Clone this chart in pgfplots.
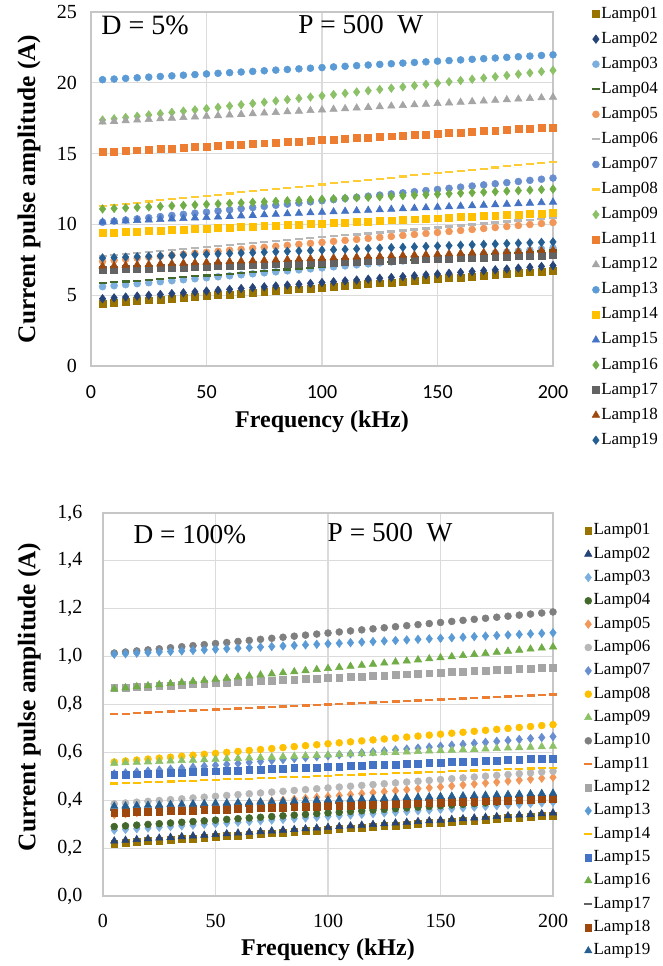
\documentclass[border=0pt]{standalone}
\usepackage{pgfplots}
\usepackage{pgfplotstable}
\pgfplotsset{compat=1.18}
\usepackage{fontspec}
\setmainfont{Liberation Serif}
\newfontfamily\calibri{Carlito}

\definecolor{c01}{HTML}{997300}
\definecolor{c02}{HTML}{264478}
\definecolor{c03}{HTML}{7CAFDD}
\definecolor{c04}{HTML}{43682B}
\definecolor{c05}{HTML}{F1975A}
\definecolor{c06}{HTML}{B7B7B7}
\definecolor{c07}{HTML}{698ED0}
\definecolor{c08}{HTML}{FFCD33}
\definecolor{c09}{HTML}{8CC168}
\definecolor{c10}{HTML}{7F7F7F}
\definecolor{c11}{HTML}{ED7D31}
\definecolor{c12}{HTML}{A5A5A5}
\definecolor{c13}{HTML}{5B9BD5}
\definecolor{c14}{HTML}{FFC000}
\definecolor{c15}{HTML}{4472C4}
\definecolor{c16}{HTML}{70AD47}
\definecolor{c17}{HTML}{636363}
\definecolor{c18}{HTML}{9E480E}
\definecolor{c19}{HTML}{255E91}

% D = 5 %, P = 500 W
\pgfplotstableread{
x L01 L02 L03 L04 L05 L06 L07 L08 L09 L11 L12 L13 L14 L15 L16 L17 L18 L19
5 4.40 4.75 5.60 5.85 7.40 7.75 10.15 11.30 17.37 15.100 17.230 20.220 9.390 10.170 11.090 6.780 7.060 7.630
10 4.46 4.81 5.67 5.91 7.47 7.82 10.23 11.38 17.46 15.145 17.275 20.265 9.426 10.206 11.126 6.807 7.089 7.659
15 4.52 4.87 5.74 5.97 7.54 7.89 10.31 11.46 17.55 15.190 17.320 20.310 9.462 10.242 11.162 6.834 7.118 7.688
20 4.58 4.93 5.81 6.03 7.61 7.96 10.39 11.54 17.64 15.235 17.365 20.355 9.498 10.278 11.198 6.861 7.147 7.717
25 4.64 4.99 5.88 6.09 7.68 8.03 10.47 11.62 17.73 15.280 17.410 20.400 9.534 10.314 11.234 6.888 7.176 7.746
30 4.70 5.05 5.95 6.15 7.75 8.10 10.55 11.70 17.82 15.325 17.455 20.445 9.570 10.350 11.270 6.915 7.205 7.775
35 4.76 5.11 6.02 6.21 7.82 8.17 10.63 11.78 17.91 15.370 17.500 20.490 9.606 10.386 11.306 6.942 7.234 7.804
40 4.82 5.17 6.09 6.27 7.89 8.24 10.71 11.86 18.00 15.415 17.545 20.535 9.642 10.422 11.342 6.969 7.263 7.833
45 4.88 5.23 6.16 6.33 7.96 8.31 10.79 11.94 18.09 15.460 17.590 20.580 9.678 10.458 11.378 6.996 7.292 7.862
50 4.94 5.29 6.23 6.39 8.03 8.38 10.87 12.02 18.18 15.505 17.635 20.625 9.714 10.494 11.414 7.023 7.321 7.891
55 5.00 5.35 6.30 6.45 8.10 8.45 10.95 12.10 18.27 15.550 17.680 20.670 9.750 10.530 11.450 7.050 7.350 7.920
60 5.06 5.41 6.37 6.51 8.17 8.52 11.03 12.18 18.36 15.595 17.725 20.715 9.786 10.566 11.486 7.077 7.379 7.949
65 5.12 5.47 6.44 6.57 8.24 8.59 11.11 12.26 18.45 15.640 17.770 20.760 9.822 10.602 11.522 7.104 7.408 7.978
70 5.18 5.53 6.51 6.63 8.31 8.66 11.19 12.34 18.54 15.685 17.815 20.805 9.858 10.638 11.558 7.131 7.437 8.007
75 5.24 5.59 6.58 6.69 8.38 8.73 11.27 12.42 18.63 15.730 17.860 20.850 9.894 10.674 11.594 7.158 7.466 8.036
80 5.30 5.65 6.65 6.75 8.45 8.80 11.35 12.50 18.72 15.775 17.905 20.895 9.930 10.710 11.630 7.185 7.495 8.065
85 5.36 5.71 6.72 6.81 8.52 8.87 11.43 12.58 18.81 15.820 17.950 20.940 9.966 10.746 11.666 7.212 7.524 8.094
90 5.42 5.77 6.79 6.87 8.59 8.94 11.51 12.66 18.90 15.865 17.995 20.985 10.002 10.782 11.702 7.239 7.553 8.123
95 5.48 5.83 6.86 6.93 8.66 9.01 11.59 12.74 18.99 15.910 18.040 21.030 10.038 10.818 11.738 7.266 7.582 8.152
100 5.54 5.89 6.93 6.99 8.73 9.08 11.67 12.82 19.08 15.955 18.085 21.075 10.074 10.854 11.774 7.293 7.611 8.181
105 5.60 5.95 7.00 7.05 8.80 9.15 11.75 12.90 19.17 16.000 18.130 21.120 10.110 10.890 11.810 7.320 7.640 8.210
110 5.66 6.01 7.07 7.11 8.87 9.22 11.83 12.98 19.26 16.045 18.175 21.165 10.146 10.926 11.846 7.347 7.669 8.239
115 5.72 6.07 7.14 7.17 8.94 9.29 11.91 13.06 19.35 16.090 18.220 21.210 10.182 10.962 11.882 7.374 7.698 8.268
120 5.78 6.13 7.21 7.23 9.01 9.36 11.99 13.14 19.44 16.135 18.265 21.255 10.218 10.998 11.918 7.401 7.727 8.297
125 5.84 6.19 7.28 7.29 9.08 9.43 12.07 13.22 19.53 16.180 18.310 21.300 10.254 11.034 11.954 7.428 7.756 8.326
130 5.90 6.25 7.35 7.35 9.15 9.50 12.15 13.30 19.62 16.225 18.355 21.345 10.290 11.070 11.990 7.455 7.785 8.355
135 5.96 6.31 7.42 7.41 9.22 9.57 12.23 13.38 19.71 16.270 18.400 21.390 10.326 11.106 12.026 7.482 7.814 8.384
140 6.02 6.37 7.49 7.47 9.29 9.64 12.31 13.46 19.80 16.315 18.445 21.435 10.362 11.142 12.062 7.509 7.843 8.413
145 6.08 6.43 7.56 7.53 9.36 9.71 12.39 13.54 19.89 16.360 18.490 21.480 10.398 11.178 12.098 7.536 7.872 8.442
150 6.14 6.49 7.63 7.59 9.43 9.78 12.47 13.62 19.98 16.405 18.535 21.525 10.434 11.214 12.134 7.563 7.901 8.471
155 6.20 6.55 7.70 7.65 9.50 9.85 12.55 13.70 20.07 16.450 18.580 21.570 10.470 11.250 12.170 7.590 7.930 8.500
160 6.26 6.61 7.77 7.71 9.57 9.92 12.63 13.78 20.16 16.495 18.625 21.615 10.506 11.286 12.206 7.617 7.959 8.529
165 6.32 6.67 7.84 7.77 9.64 9.99 12.71 13.86 20.25 16.540 18.670 21.660 10.542 11.322 12.242 7.644 7.988 8.558
170 6.38 6.73 7.91 7.83 9.71 10.06 12.79 13.94 20.34 16.585 18.715 21.705 10.578 11.358 12.278 7.671 8.017 8.587
175 6.44 6.79 7.98 7.89 9.78 10.13 12.87 14.02 20.43 16.630 18.760 21.750 10.614 11.394 12.314 7.698 8.046 8.616
180 6.50 6.85 8.05 7.95 9.85 10.20 12.95 14.10 20.52 16.675 18.805 21.795 10.650 11.430 12.350 7.725 8.075 8.645
185 6.56 6.91 8.12 8.01 9.92 10.27 13.03 14.18 20.61 16.720 18.850 21.840 10.686 11.466 12.386 7.752 8.104 8.674
190 6.62 6.97 8.19 8.07 9.99 10.34 13.11 14.26 20.70 16.765 18.895 21.885 10.722 11.502 12.422 7.779 8.133 8.703
195 6.68 7.03 8.26 8.13 10.06 10.41 13.19 14.34 20.79 16.810 18.940 21.930 10.758 11.538 12.458 7.806 8.162 8.732
200 6.74 7.09 8.33 8.19 10.13 10.48 13.27 14.42 20.88 16.855 18.985 21.975 10.794 11.574 12.494 7.833 8.191 8.761
}\topdata

% D = 100 %, P = 500 W
\pgfplotstableread{
x L01 L02 L03 L04 L05 L06 L07 L08 L09 L10 L11 L12 L13 L14 L15 L16 L17 L18 L19
5 0.220 0.230 0.275 0.290 0.340 0.3850 0.510 0.560 0.5550 1.0150 0.7600 0.8690 1.0100 0.4700 0.5050 0.8650 0.3600 0.3470 0.3750
10 0.223 0.233 0.278 0.293 0.344 0.3885 0.514 0.564 0.5568 1.0194 0.7621 0.8712 1.0123 0.4717 0.5068 0.8695 0.3615 0.3485 0.3764
15 0.226 0.236 0.281 0.296 0.348 0.3920 0.518 0.568 0.5586 1.0238 0.7642 0.8734 1.0146 0.4734 0.5086 0.8740 0.3630 0.3500 0.3778
20 0.229 0.239 0.284 0.299 0.352 0.3955 0.522 0.572 0.5604 1.0282 0.7663 0.8756 1.0169 0.4751 0.5104 0.8785 0.3645 0.3515 0.3792
25 0.232 0.242 0.287 0.302 0.356 0.3990 0.526 0.576 0.5622 1.0326 0.7684 0.8778 1.0192 0.4768 0.5122 0.8830 0.3660 0.3530 0.3806
30 0.235 0.245 0.290 0.305 0.360 0.4025 0.530 0.580 0.5640 1.0370 0.7705 0.8800 1.0215 0.4785 0.5140 0.8875 0.3675 0.3545 0.3820
35 0.238 0.248 0.293 0.308 0.364 0.4060 0.534 0.584 0.5658 1.0414 0.7726 0.8822 1.0238 0.4802 0.5158 0.8920 0.3690 0.3560 0.3834
40 0.241 0.251 0.296 0.311 0.368 0.4095 0.538 0.588 0.5676 1.0458 0.7747 0.8844 1.0261 0.4819 0.5176 0.8965 0.3705 0.3575 0.3848
45 0.244 0.254 0.299 0.314 0.372 0.4130 0.542 0.592 0.5694 1.0502 0.7768 0.8866 1.0284 0.4836 0.5194 0.9010 0.3720 0.3590 0.3862
50 0.247 0.257 0.302 0.317 0.376 0.4165 0.546 0.596 0.5712 1.0546 0.7789 0.8888 1.0307 0.4853 0.5212 0.9055 0.3735 0.3605 0.3876
55 0.250 0.260 0.305 0.320 0.380 0.4200 0.550 0.600 0.5730 1.0590 0.7810 0.8910 1.0330 0.4870 0.5230 0.9100 0.3750 0.3620 0.3890
60 0.253 0.263 0.308 0.323 0.384 0.4235 0.554 0.604 0.5748 1.0634 0.7831 0.8932 1.0353 0.4887 0.5248 0.9145 0.3765 0.3635 0.3904
65 0.256 0.266 0.311 0.326 0.388 0.4270 0.558 0.608 0.5766 1.0678 0.7852 0.8954 1.0376 0.4904 0.5266 0.9190 0.3780 0.3650 0.3918
70 0.259 0.269 0.314 0.329 0.392 0.4305 0.562 0.612 0.5784 1.0722 0.7873 0.8976 1.0399 0.4921 0.5284 0.9235 0.3795 0.3665 0.3932
75 0.262 0.272 0.317 0.332 0.396 0.4340 0.566 0.616 0.5802 1.0766 0.7894 0.8998 1.0422 0.4938 0.5302 0.9280 0.3810 0.3680 0.3946
80 0.265 0.275 0.320 0.335 0.400 0.4375 0.570 0.620 0.5820 1.0810 0.7915 0.9020 1.0445 0.4955 0.5320 0.9325 0.3825 0.3695 0.3960
85 0.268 0.278 0.323 0.338 0.404 0.4410 0.574 0.624 0.5838 1.0854 0.7936 0.9042 1.0468 0.4972 0.5338 0.9370 0.3840 0.3710 0.3974
90 0.271 0.281 0.326 0.341 0.408 0.4445 0.578 0.628 0.5856 1.0898 0.7957 0.9064 1.0491 0.4989 0.5356 0.9415 0.3855 0.3725 0.3988
95 0.274 0.284 0.329 0.344 0.412 0.4480 0.582 0.632 0.5874 1.0942 0.7978 0.9086 1.0514 0.5006 0.5374 0.9460 0.3870 0.3740 0.4002
100 0.277 0.287 0.332 0.347 0.416 0.4515 0.586 0.636 0.5892 1.0986 0.7999 0.9108 1.0537 0.5023 0.5392 0.9505 0.3885 0.3755 0.4016
105 0.280 0.290 0.335 0.350 0.420 0.4550 0.590 0.640 0.5910 1.1030 0.8020 0.9130 1.0560 0.5040 0.5410 0.9550 0.3900 0.3770 0.4030
110 0.283 0.293 0.338 0.353 0.424 0.4585 0.594 0.644 0.5928 1.1074 0.8041 0.9152 1.0583 0.5057 0.5428 0.9595 0.3915 0.3785 0.4044
115 0.286 0.296 0.341 0.356 0.428 0.4620 0.598 0.648 0.5946 1.1118 0.8062 0.9174 1.0606 0.5074 0.5446 0.9640 0.3930 0.3800 0.4058
120 0.289 0.299 0.344 0.359 0.432 0.4655 0.602 0.652 0.5964 1.1162 0.8083 0.9196 1.0629 0.5091 0.5464 0.9685 0.3945 0.3815 0.4072
125 0.292 0.302 0.347 0.362 0.436 0.4690 0.606 0.656 0.5982 1.1206 0.8104 0.9218 1.0652 0.5108 0.5482 0.9730 0.3960 0.3830 0.4086
130 0.295 0.305 0.350 0.365 0.440 0.4725 0.610 0.660 0.6000 1.1250 0.8125 0.9240 1.0675 0.5125 0.5500 0.9775 0.3975 0.3845 0.4100
135 0.298 0.308 0.353 0.368 0.444 0.4760 0.614 0.664 0.6018 1.1294 0.8146 0.9262 1.0698 0.5142 0.5518 0.9820 0.3990 0.3860 0.4114
140 0.301 0.311 0.356 0.371 0.448 0.4795 0.618 0.668 0.6036 1.1338 0.8167 0.9284 1.0721 0.5159 0.5536 0.9865 0.4005 0.3875 0.4128
145 0.304 0.314 0.359 0.374 0.452 0.4830 0.622 0.672 0.6054 1.1382 0.8188 0.9306 1.0744 0.5176 0.5554 0.9910 0.4020 0.3890 0.4142
150 0.307 0.317 0.362 0.377 0.456 0.4865 0.626 0.676 0.6072 1.1426 0.8209 0.9328 1.0767 0.5193 0.5572 0.9955 0.4035 0.3905 0.4156
155 0.310 0.320 0.365 0.380 0.460 0.4900 0.630 0.680 0.6090 1.1470 0.8230 0.9350 1.0790 0.5210 0.5590 1.0000 0.4050 0.3920 0.4170
160 0.313 0.323 0.368 0.383 0.464 0.4935 0.634 0.684 0.6108 1.1514 0.8251 0.9372 1.0813 0.5227 0.5608 1.0045 0.4065 0.3935 0.4184
165 0.316 0.326 0.371 0.386 0.468 0.4970 0.638 0.688 0.6126 1.1558 0.8272 0.9394 1.0836 0.5244 0.5626 1.0090 0.4080 0.3950 0.4198
170 0.319 0.329 0.374 0.389 0.472 0.5005 0.642 0.692 0.6144 1.1602 0.8293 0.9416 1.0859 0.5261 0.5644 1.0135 0.4095 0.3965 0.4212
175 0.322 0.332 0.377 0.392 0.476 0.5040 0.646 0.696 0.6162 1.1646 0.8314 0.9438 1.0882 0.5278 0.5662 1.0180 0.4110 0.3980 0.4226
180 0.325 0.335 0.380 0.395 0.480 0.5075 0.650 0.700 0.6180 1.1690 0.8335 0.9460 1.0905 0.5295 0.5680 1.0225 0.4125 0.3995 0.4240
185 0.328 0.338 0.383 0.398 0.484 0.5110 0.654 0.704 0.6198 1.1734 0.8356 0.9482 1.0928 0.5312 0.5698 1.0270 0.4140 0.4010 0.4254
190 0.331 0.341 0.386 0.401 0.488 0.5145 0.658 0.708 0.6216 1.1778 0.8377 0.9504 1.0951 0.5329 0.5716 1.0315 0.4155 0.4025 0.4268
195 0.334 0.344 0.389 0.404 0.492 0.5180 0.662 0.712 0.6234 1.1822 0.8398 0.9526 1.0974 0.5346 0.5734 1.0360 0.4170 0.4040 0.4282
200 0.337 0.347 0.392 0.407 0.496 0.5215 0.666 0.716 0.6252 1.1866 0.8419 0.9548 1.0997 0.5363 0.5752 1.0405 0.4185 0.4055 0.4296
}\botdata

\pgfplotsset{
  sq/.style={only marks, mark=square*, mark size=2.6pt, color=#1},
  ci/.style={only marks, mark=*, mark size=2.6pt, color=#1},
  di/.style={only marks, mark=diamond*, mark size=3.2pt, color=#1},
  tr/.style={only marks, mark=triangle*, mark size=3.2pt, color=#1},
  da/.style={only marks, mark=-, mark size=3pt, mark options={line width=1.6pt}, color=#1},
  common/.style={
    scale only axis, anchor=south west,
    xmin=0, xmax=200, xtick={0,50,100,150,200},
    grid=major, major grid style={draw=gray!28, line width=0.8pt},
    axis line style={draw=gray!45, line width=0.8pt},
    major tick length=0pt,
    /pgf/number format/assume math mode=true,
    clip=false,
    legend cell align=left,
    legend image code/.code={\draw[mark repeat=2,mark phase=2,##1] plot coordinates {(0pt,0pt)(4pt,0pt)(8pt,0pt)};},
    xlabel={\textbf{Frequency (kHz)}},
    ylabel={\textbf{Current pulse amplitude (A)}},
    xlabel style={font=\fontsize{18}{20}\selectfont, anchor=center},
    ylabel style={font=\fontsize{19}{21}\selectfont, anchor=center, rotate=0},
  },
}

\begin{document}
\begin{tikzpicture}
\useasboundingbox (0,0) rectangle (497.25pt,724.5pt);

% ---------- top panel ----------
\begin{axis}[common,
  at={(68.25pt,450pt)}, width=346.5pt, height=265.5pt,
  ymin=0, ymax=25, ytick={0,5,10,15,20,25},
  xticklabel style={font=\calibri\fontsize{15}{18}\selectfont, yshift=-11pt},
  yticklabel style={font=\fontsize{15}{18}\selectfont, xshift=-7pt},
  xlabel style={at={(axis description cs:0.5,-0.158)}},
  ylabel style={at={(axis description cs:-0.134,0.5)}},
  legend style={draw=none, fill=none, at={(axis description cs:1.075,1.025)}, anchor=north west,
    font=\fontsize{12.75}{14}\selectfont, row sep=6.8pt,
    nodes={inner xsep=1pt, inner ysep=0pt, text height=9pt, text depth=3pt}},
]
\addplot[sq=c01] table[x=x,y=L01]{\topdata}; \addlegendentry{Lamp01}
\addplot[di=c02] table[x=x,y=L02]{\topdata}; \addlegendentry{Lamp02}
\addplot[ci=c03] table[x=x,y=L03]{\topdata}; \addlegendentry{Lamp03}
\addplot[da=c04] table[x=x,y=L04]{\topdata}; \addlegendentry{Lamp04}
\addplot[ci=c05] table[x=x,y=L05]{\topdata}; \addlegendentry{Lamp05}
\addplot[da=c06] table[x=x,y=L06]{\topdata}; \addlegendentry{Lamp06}
\addplot[ci=c07] table[x=x,y=L07]{\topdata}; \addlegendentry{Lamp07}
\addplot[da=c08] table[x=x,y=L08]{\topdata}; \addlegendentry{Lamp08}
\addplot[di=c09] table[x=x,y=L09]{\topdata}; \addlegendentry{Lamp09}
\addplot[sq=c11] table[x=x,y=L11]{\topdata}; \addlegendentry{Lamp11}
\addplot[tr=c12] table[x=x,y=L12]{\topdata}; \addlegendentry{Lamp12}
\addplot[ci=c13] table[x=x,y=L13]{\topdata}; \addlegendentry{Lamp13}
\addplot[sq=c14] table[x=x,y=L14]{\topdata}; \addlegendentry{Lamp14}
\addplot[tr=c15] table[x=x,y=L15]{\topdata}; \addlegendentry{Lamp15}
\addplot[di=c16] table[x=x,y=L16]{\topdata}; \addlegendentry{Lamp16}
\addplot[sq=c17] table[x=x,y=L17]{\topdata}; \addlegendentry{Lamp17}
\addplot[tr=c18] table[x=x,y=L18]{\topdata}; \addlegendentry{Lamp18}
\addplot[di=c19] table[x=x,y=L19]{\topdata}; \addlegendentry{Lamp19}
\node[font=\fontsize{21}{23}\selectfont] at (axis description cs:0.117,0.963) {D = 5\%};
\node[font=\fontsize{20.5}{22}\selectfont] at (axis description cs:0.584,0.963) {P = 500\ \ W};
\end{axis}

% ---------- bottom panel ----------
\begin{axis}[common,
  at={(77.25pt,52.5pt)}, width=337.5pt, height=287.25pt,
  ymin=0, ymax=1.6, ytick={0,0.2,0.4,0.6,0.8,1.0,1.2,1.4,1.6},
  yticklabel={\pgfmathprintnumber[fixed, fixed zerofill, precision=1, use comma]{\tick}},
  xticklabel style={font=\fontsize{15}{18}\selectfont, yshift=-10pt},
  yticklabel style={font=\fontsize{15}{18}\selectfont, xshift=-12pt},
  xlabel style={at={(axis description cs:0.5,-0.141)}},
  ylabel style={at={(axis description cs:-0.164,0.52)}},
  legend style={draw=none, fill=none, at={(axis description cs:1.06,0.982)}, anchor=north west,
    font=\fontsize{12.75}{14}\selectfont, row sep=5.5pt,
    nodes={inner xsep=1pt, inner ysep=0pt, text height=9pt, text depth=3pt}},
]
\addplot[sq=c01] table[x=x,y=L01]{\botdata}; \addlegendentry{Lamp01}
\addplot[tr=c02] table[x=x,y=L02]{\botdata}; \addlegendentry{Lamp02}
\addplot[di=c03] table[x=x,y=L03]{\botdata}; \addlegendentry{Lamp03}
\addplot[ci=c04] table[x=x,y=L04]{\botdata}; \addlegendentry{Lamp04}
\addplot[di=c05] table[x=x,y=L05]{\botdata}; \addlegendentry{Lamp05}
\addplot[ci=c06] table[x=x,y=L06]{\botdata}; \addlegendentry{Lamp06}
\addplot[di=c07] table[x=x,y=L07]{\botdata}; \addlegendentry{Lamp07}
\addplot[ci=c14] table[x=x,y=L08]{\botdata}; \addlegendentry{Lamp08}
\addplot[tr=c09] table[x=x,y=L09]{\botdata}; \addlegendentry{Lamp09}
\addplot[ci=c10] table[x=x,y=L10]{\botdata}; \addlegendentry{Lamp10}
\addplot[da=c11] table[x=x,y=L11]{\botdata}; \addlegendentry{Lamp11}
\addplot[sq=c12] table[x=x,y=L12]{\botdata}; \addlegendentry{Lamp12}
\addplot[di=c13] table[x=x,y=L13]{\botdata}; \addlegendentry{Lamp13}
\addplot[da=c14] table[x=x,y=L14]{\botdata}; \addlegendentry{Lamp14}
\addplot[sq=c15] table[x=x,y=L15]{\botdata}; \addlegendentry{Lamp15}
\addplot[tr=c16] table[x=x,y=L16]{\botdata}; \addlegendentry{Lamp16}
\addplot[da=c17] table[x=x,y=L17]{\botdata}; \addlegendentry{Lamp17}
\addplot[sq=c18] table[x=x,y=L18]{\botdata}; \addlegendentry{Lamp18}
\addplot[tr=c19] table[x=x,y=L19]{\botdata}; \addlegendentry{Lamp19}
\node[font=\fontsize{20.5}{22}\selectfont] at (axis description cs:0.193,0.943) {D = 100\%};
\node[font=\fontsize{20.5}{22}\selectfont] at (axis description cs:0.638,0.948) {P = 500\ \ W};
\end{axis}
\end{tikzpicture}
\end{document}
